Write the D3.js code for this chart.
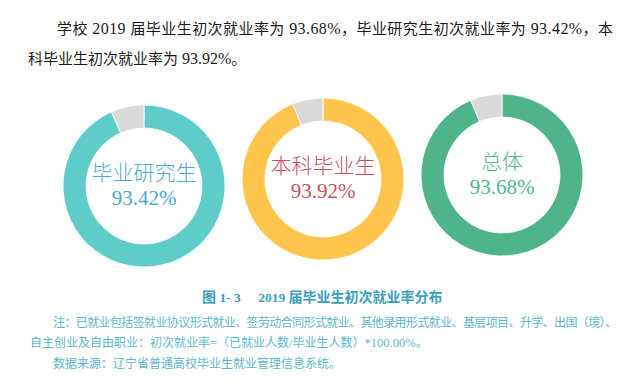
<!DOCTYPE html>
<html>
<head>
<meta charset="utf-8">
<script src="https://cdn.jsdelivr.net/npm/d3@7"></script>
<style>
  body { margin: 0; background: #fff; }
  svg { display: block; }
</style>
</head>
<body>
<div id="chart"></div>
<script>
// data
const groups = ["毕业研究生", "本科毕业生", "总体"];
const rates = [93.42, 93.92, 93.68];
const ringColors = ["#5ecdc9", "#ffc54c", "#4fb48a"];
const textColors = ["#4aaad4", "#c8505c", "#4db88c"];
const restColor = "#d9d9d9";

const introLines = [
    "学校 2019 届毕业生初次就业率为 93.68%，毕业研究生初次就业率为 93.42%，本",
    "科毕业生初次就业率为 93.92%。"
];
const caption = "图 1- 3　 2019 届毕业生初次就业率分布";
const notes = [
    "注：已就业包括签就业协议形式就业、签劳动合同形式就业、其他录用形式就业、基层项目、升学、出国（境）、",
    "自主创业及自由职业：初次就业率=（已就业人数/毕业生人数）*100.00%。",
    "数据来源：辽宁省普通高校毕业生就业管理信息系统。"
];

const width = 632, height = 384;
const serif = "'Liberation Serif', 'Noto Sans CJK SC', serif";
const cjk = "'Noto Sans CJK SC', sans-serif";

let svg = d3.select("#chart")
    .append("svg")
    .attr("width", width)
    .attr("height", height);

// split a line into CJK / latin runs so each gets its own font
function mixedText(sel, str, cjkSize, latinSize) {
    let runs = str.match(/[\u3000-\u303f\u4e00-\u9fff\uff00-\uffef]+|[^\u3000-\u303f\u4e00-\u9fff\uff00-\uffef]+/g);
    runs.forEach(r => {
        let isCjk = /[\u3000-\u303f\u4e00-\u9fff\uff00-\uffef]/.test(r);
        sel.append("tspan")
            .style("font-family", isCjk ? cjk : serif)
            .style("font-size", (isCjk ? cjkSize : latinSize) + "px")
            .text(r);
    });
    return sel;
}

// intro paragraph
let intro1 = svg.append("text")
    .attr("x", 57)
    .attr("y", 34)
    .attr("textLength", 556)
    .attr("lengthAdjust", "spacing")
    .style("fill", "#1a1a1a")
    .style("white-space", "pre");
mixedText(intro1, introLines[0], 15, 16);

let intro2 = svg.append("text")
    .attr("x", 28)
    .attr("y", 64)
    .style("fill", "#1a1a1a")
    .style("white-space", "pre");
mixedText(intro2, introLines[1], 15, 16);

// donuts
let x = d3.scalePoint()
    .domain(groups)
    .range([144, 502]);

let cy = d3.scaleOrdinal()
    .domain(groups)
    .range([186, 179, 175]);

let pie = d3.pie()
    .sort(null)
    .value(d => d);

let arc = d3.arc()
    .innerRadius(58)
    .outerRadius(81);

groups.forEach((g, i) => {
    let gr = svg.append("g")
        .attr("transform", "translate(" + x(g) + "," + cy(g) + ")");

    gr.selectAll("path")
        .data(pie([rates[i], 100 - rates[i]]))
        .enter()
        .append("path")
        .attr("d", arc)
        .attr("fill", (d, j) => j === 0 ? ringColors[i] : restColor)
        .attr("stroke", "#fff")
        .attr("stroke-width", 0.8);

    gr.append("text")
        .attr("y", -6)
        .attr("text-anchor", "middle")
        .style("font-family", cjk)
        .style("font-size", "21px")
        .style("font-weight", "300")
        .style("fill", textColors[i])
        .text(g);

    gr.append("text")
        .attr("y", 19)
        .attr("text-anchor", "middle")
        .style("font-family", serif)
        .style("font-size", "21px")
        .style("fill", textColors[i])
        .text(rates[i].toFixed(2) + "%");
});

// caption
let cap = svg.append("text")
    .attr("x", 202)
    .attr("y", 302)
    .style("font-weight", "bold")
    .style("fill", "#3a9fbb")
    .style("white-space", "pre");
mixedText(cap, caption, 14, 13.5);

// notes
let noteX = [53, 30, 53];
let noteY = [327, 347, 368];
notes.forEach((n, i) => {
    let t = svg.append("text")
        .attr("x", noteX[i])
        .attr("y", noteY[i])
        .style("fill", "#5cb6cc")
        .style("white-space", "pre");
    if (i === 0) t.attr("textLength", 564).attr("lengthAdjust", "spacing");
    mixedText(t, n, 12, 12.5);
});
</script>
</body>
</html>
